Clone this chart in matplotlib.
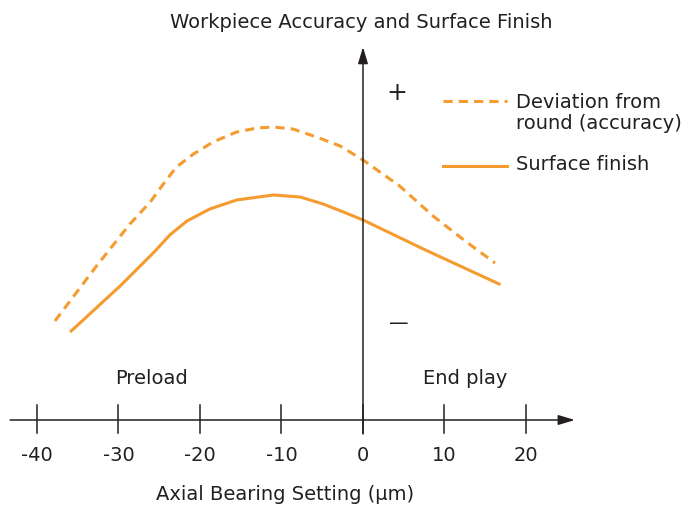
import matplotlib
matplotlib.use("Agg")
import matplotlib.pyplot as plt

# valeurs (axe y sans unité)
dev_x = [-37.8, -32.7, -28.6, -26.1, -24.5, -22.9, -20.8, -18.4, -15.5, -13.0, -11.0,
         -8.6, -5.7, -2.8, 0.0, 4.5, 8.6, 12.7, 16.2]
dev_y = [9.9, 15.4, 19.6, 21.8, 23.6, 25.3, 26.6, 27.8, 28.8, 29.2, 29.3,
         29.1, 28.3, 27.4, 26.0, 23.4, 20.4, 17.8, 15.7]

fin_x = [-35.8, -29.8, -25.5, -23.7, -21.6, -18.8, -15.5, -11.0, -7.7, -4.9, -2.4,
         0.0, 7.4, 16.7]
fin_y = [8.9, 13.4, 16.9, 18.5, 19.9, 21.1, 22.0, 22.5, 22.3, 21.6, 20.8,
         20.0, 17.1, 13.6]

ticks = [-40, -30, -20, -10, 0, 10, 20]

orange = "#f59b2f"
dark = "#231f20"
plt.rcParams["font.family"] = ["DejaVu Sans"]

fig = plt.figure(figsize=(6.81, 5.06), dpi=100)
ax = fig.add_axes([0, 0, 1, 1])
ax.set_xlim(-44.54, 39.02)
ax.set_ylim(-8.5, 42.1)
ax.axis("off")

# axes avec flèches
arrow = dict(arrowstyle="-|>,head_length=10,head_width=3", color=dark, lw=1.1,
             shrinkA=0, shrinkB=0, mutation_scale=1)
ax.annotate("", xy=(26.0, 0), xytext=(-43.3, 0), arrowprops=arrow)
ax.annotate("", xy=(0, 37.3), xytext=(0, -1.4), arrowprops=arrow)
for t in ticks:
    ax.plot([t, t], [-1.3, 1.5], color=dark, lw=1.1)
    ax.text(t, -3.5, str(t), ha="center", va="center", fontsize=14, color=dark)

# courbes
ax.plot(dev_x, dev_y, color=orange, lw=2.2, ls=(0, (3, 2)), solid_joinstyle="round")
ax.plot(fin_x, fin_y, color=orange, lw=2.2, solid_joinstyle="round")

# légende
ax.plot([9.8, 17.7], [31.9, 31.9], color=orange, lw=2.2, ls=(0, (3, 2)))
ax.text(18.8, 30.8, "Deviation from\nround (accuracy)", ha="left", va="center",
        fontsize=14, color=dark, linespacing=1.15)
ax.plot([9.8, 17.7], [25.4, 25.4], color=orange, lw=2.2)
ax.text(18.8, 25.6, "Surface finish", ha="left", va="center", fontsize=14, color=dark)

ax.text(4.2, 32.8, "+", ha="center", va="center", fontsize=18, color=dark)
ax.text(4.4, 9.8, "\u2014", ha="center", va="center", fontsize=14, color=dark)

ax.text(-25.9, 4.3, "Preload", ha="center", va="center", fontsize=14, color=dark)
ax.text(12.5, 4.3, "End play", ha="center", va="center", fontsize=14, color=dark)

ax.text(-0.25, 39.9, "Workpiece Accuracy and Surface Finish", ha="center", va="center",
        fontsize=14, color=dark)
ax.text(-9.6, -7.4, "Axial Bearing Setting (\u00b5m)", ha="center", va="center",
        fontsize=14, color=dark)

fig.savefig("out.png", dpi=100)
